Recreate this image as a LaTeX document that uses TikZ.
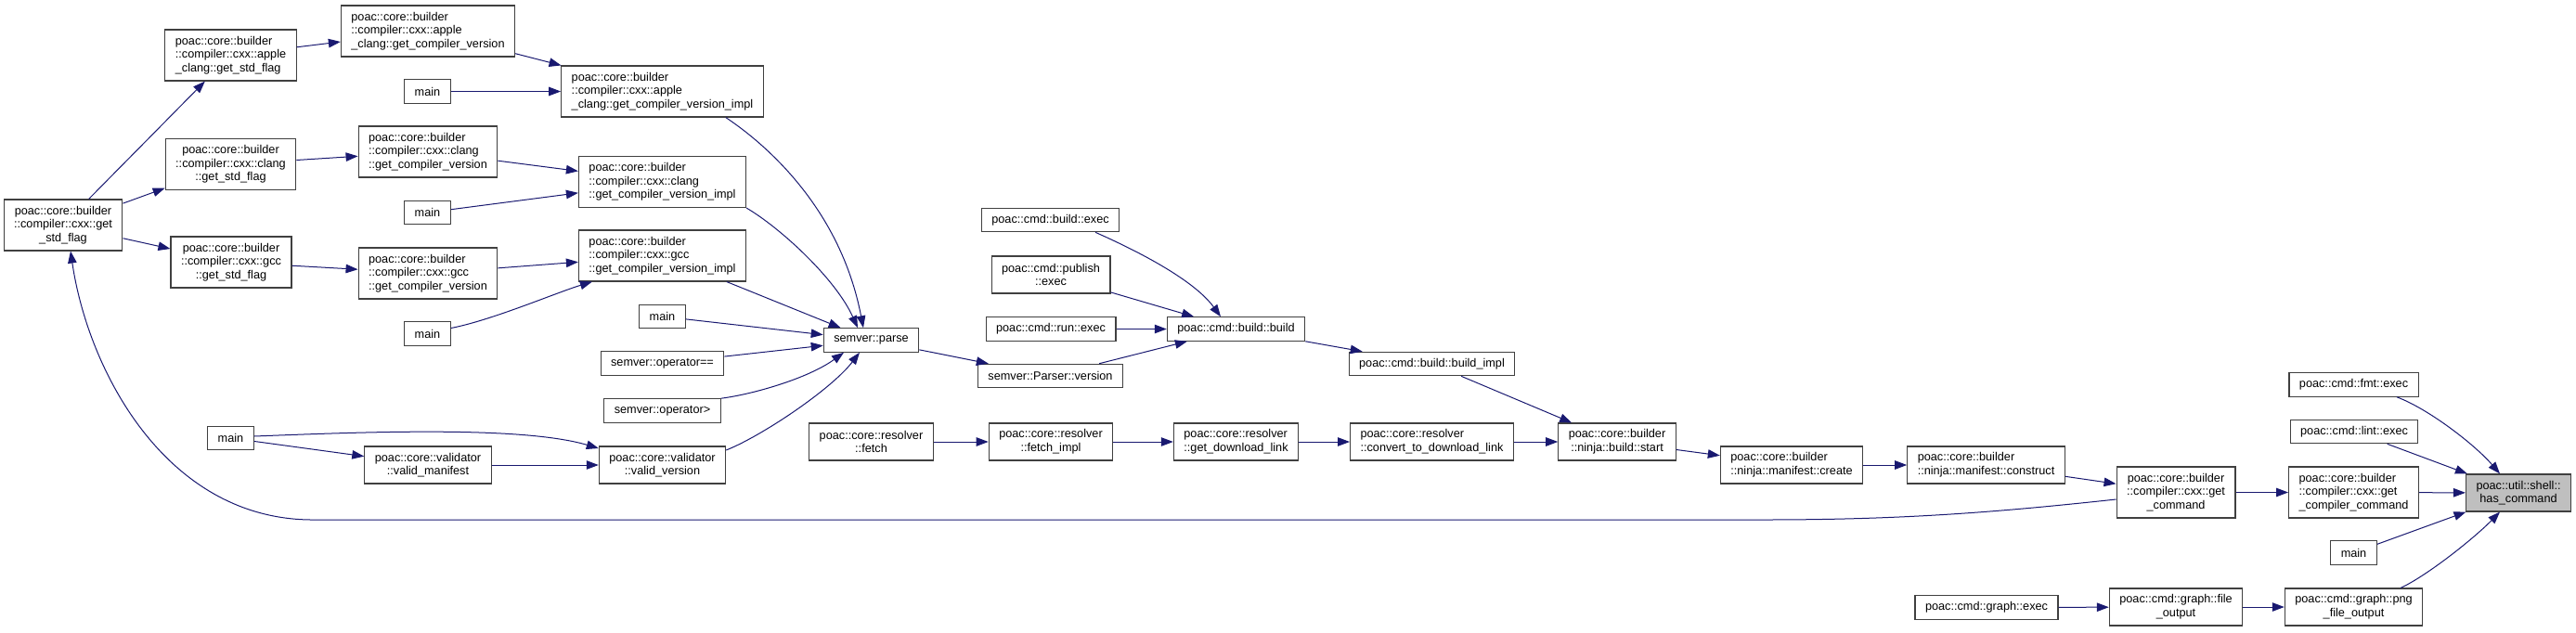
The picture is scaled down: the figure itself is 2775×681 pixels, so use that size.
\documentclass[tikz,border=0pt]{standalone}
\usepackage{fontspec}
\setmainfont{Liberation Sans}
\usepackage{tikz}
\usetikzlibrary{arrows.meta}
\definecolor{edgeblue}{HTML}{191970}
\definecolor{boxline}{HTML}{404040}
\definecolor{focusgray}{HTML}{BFBFBF}

\begin{document}
\begin{tikzpicture}[x=1pt, y=-1pt, >={Triangle[length=13pt,width=9.5pt]},
  fn/.style={draw=boxline, line width=1.1pt, fill=white, font=\fontsize{12.7}{14.7}\selectfont,
    inner xsep=11pt, inner ysep=2pt, align=center, minimum height=25.5pt},
  fnl/.style={fn, align=left},
  lines2/.style={minimum height=40pt},
  lines3/.style={minimum height=55pt},
  focus/.style={fill=focusgray},
  calls/.style={->, draw=edgeblue, line width=1pt}]
  \useasboundingbox (0,0) rectangle (2775,681);

  % compiler flag / version chain
  \node[fn, lines3] (getstd) at (68,242.5) {poac::core::builder\\::compiler::cxx::get\\\_std\_flag};
  \node[fnl, lines3] (applestd) at (248.5,59.5) {poac::core::builder\\::compiler::cxx::apple\\\_clang::get\_std\_flag};
  \node[fn, lines3] (clangstd) at (248.5,177) {poac::core::builder\\::compiler::cxx::clang\\::get\_std\_flag};
  \node[fn, lines3] (gccstd) at (249,282.5) {poac::core::builder\\::compiler::cxx::gcc\\::get\_std\_flag};
  \node[fnl, lines3] (applever) at (461,33.5) {poac::core::builder\\::compiler::cxx::apple\\\_clang::get\_compiler\_version};
  \node[fnl, lines3] (clangver) at (461,163.5) {poac::core::builder\\::compiler::cxx::clang\\::get\_compiler\_version};
  \node[fnl, lines3] (gccver) at (461,294.5) {poac::core::builder\\::compiler::cxx::gcc\\::get\_compiler\_version};
  \foreach \y/\lab in {98.5/1, 229/2, 359.5/3} {
    \node[fn] (main\lab) at (460.5,\y) {main};
  }
  \node[fnl, lines3] (appleimpl) at (713.5,98.5) {poac::core::builder\\::compiler::cxx::apple\\\_clang::get\_compiler\_version\_impl};
  \node[fnl, lines3] (clangimpl) at (713.5,196) {poac::core::builder\\::compiler::cxx::clang\\::get\_compiler\_version\_impl};
  \node[fnl, lines3] (gccimpl) at (713.5,275.5) {poac::core::builder\\::compiler::cxx::gcc\\::get\_compiler\_version\_impl};

  % semver callers
  \node[fn] (main4) at (713.5,341) {main};
  \node[fn] (opeq) at (713.5,391.5) {semver::operator==};
  \node[fn] (opgt) at (713.5,442.5) {semver::operator>};
  \node[fn, lines2] (vversion) at (713.5,501) {poac::core::validator\\::valid\_version};
  \node[fn] (main5) at (248.5,472) {main};
  \node[fn, lines2] (vmanifest) at (461,501) {poac::core::validator\\::valid\_manifest};
  \node[fn] (parse) at (938.5,366.5) {semver::parse};

  % build / resolver chain
  \node[fn, lines2] (fetch) at (938.5,476) {poac::core::resolver\\::fetch};
  \node[fn] (bexec) at (1131.5,237) {poac::cmd::build::exec};
  \node[fn, lines2] (pexec) at (1132,296) {poac::cmd::publish\\::exec};
  \node[fn] (rexec) at (1132,354.5) {poac::cmd::run::exec};
  \node[fn] (pversion) at (1131.5,405) {semver::Parser::version};
  \node[fn, lines2] (fetchimpl) at (1132,476) {poac::core::resolver\\::fetch\_impl};
  \node[fn] (bbuild) at (1331.5,354.5) {poac::cmd::build::build};
  \node[fnl, lines2] (dlink) at (1331.5,476) {poac::core::resolver\\::get\_download\_link};
  \node[fn] (bimpl) at (1542.5,392) {poac::cmd::build::build\_impl};
  \node[fnl, lines2] (convert) at (1542.5,476) {poac::core::resolver\\::convert\_to\_download\_link};
  \node[fn, lines2] (start) at (1742,476) {poac::core::builder\\::ninja::build::start};
  \node[fnl, lines2] (create) at (1930,501) {poac::core::builder\\::ninja::manifest::create};
  \node[fnl, lines2] (construct) at (2139.5,501) {poac::core::builder\\::ninja::manifest::construct};
  \node[fn, lines3] (getcmd) at (2344,530.5) {poac::core::builder\\::compiler::cxx::get\\\_command};
  \node[fn] (gexec) at (2140,654.5) {poac::cmd::graph::exec};
  \node[fn, lines2] (fileout) at (2344,654) {poac::cmd::graph::file\\\_output};

  % direct callers of has_command
  \node[fn] (fmtexec) at (2535.5,414.5) {poac::cmd::fmt::exec};
  \node[fn] (lintexec) at (2536,465) {poac::cmd::lint::exec};
  \node[fnl, lines3] (compcmd) at (2535.5,530.5) {poac::core::builder\\::compiler::cxx::get\\\_compiler\_command};
  \node[fn] (main6) at (2535.5,595.5) {main};
  \node[fn, lines2] (pngout) at (2535.5,654) {poac::cmd::graph::png\\\_file\_output};
  \node[fn, lines2, focus] (hascmd) at (2713,531) {poac::util::shell::\\has\_command};

  % edges
  \draw[calls] (getstd) -- (applestd);
  \draw[calls] (getstd) -- (clangstd);
  \draw[calls] (getstd) -- (gccstd);
  \draw[calls] (applestd) -- (applever);
  \draw[calls] (clangstd) -- (clangver);
  \draw[calls] (gccstd) -- (gccver);
  \draw[calls] (applever) -- (appleimpl);
  \draw[calls] (clangver) -- (clangimpl);
  \draw[calls] (gccver) -- (gccimpl);
  \draw[calls] (main1) -- (appleimpl);
  \draw[calls] (main2) -- (clangimpl);
  \draw[calls] ([yshift=6pt]main3.east) .. controls (530,345) and (600,315) .. ([xshift=15pt]gccimpl.south west);
  \draw[calls] ([xshift=-41pt]appleimpl.south east) .. controls (823,154) and (905,223) .. ([xshift=-8.5pt]parse.north);
  \draw[calls] (clangimpl.south east) .. controls (840,245) and (900,300) .. ([xshift=-14.5pt]parse.north);
  \draw[calls] (gccimpl) -- (parse);
  \draw[calls] (main4) -- (parse);
  \draw[calls] (opeq) -- (parse);
  \draw[calls] (opgt.north east) .. controls (810,425) and (870,408) .. ([xshift=-29.5pt]parse.south);
  \draw[calls] ([yshift=16pt]vversion.east) .. controls (820,470) and (895,420) .. ([xshift=-12.5pt]parse.south);
  \draw[calls] (main5) -- (vmanifest);
  \draw[calls] ([yshift=2pt]main5.east) .. controls (380,466) and (560,458) .. ([yshift=18pt]vversion.west);
  \draw[calls] (vmanifest) -- (vversion);
  \draw[calls] (parse) -- (pversion);
  \draw[calls] ([xshift=48.5pt]bexec.south) .. controls (1220,268) and (1285,300) .. ([xshift=-16.5pt]bbuild.north);
  \draw[calls] (pexec) -- (bbuild);
  \draw[calls] (rexec) -- (bbuild);
  \draw[calls] (pversion) -- (bbuild);
  \draw[calls] (bbuild) -- (bimpl);
  \draw[calls] (bimpl) -- (start);
  \draw[calls] (fetch) -- (fetchimpl);
  \draw[calls] (fetchimpl) -- (dlink);
  \draw[calls] (dlink) -- (convert);
  \draw[calls] (convert) -- (start);
  \draw[calls] (start) -- (create);
  \draw[calls] (create) -- (construct);
  \draw[calls] (construct) -- (getcmd);
  \draw[calls] (getcmd) -- (compcmd);
  \draw[calls] ([yshift=-7.5pt]getcmd.west) .. controls (2150,552) and (2050,560) .. (1900,560)
    -- (340,560) .. controls (180,562) and (95,400) .. ([xshift=8pt]getstd.south);
  \draw[calls] (gexec) -- (fileout);
  \draw[calls] (fileout) -- (pngout);
  \draw[calls] ([xshift=46.5pt]fmtexec.south) .. controls (2615,440) and (2665,478) .. ([xshift=-20pt]hascmd.north);
  \draw[calls] (lintexec) -- (hascmd);
  \draw[calls] (compcmd) -- (hascmd);
  \draw[calls] (main6) -- (hascmd);
  \draw[calls] ([xshift=50.5pt]pngout.north) .. controls (2615,620) and (2665,580) .. ([xshift=-20pt]hascmd.south);
\end{tikzpicture}
\end{document}
